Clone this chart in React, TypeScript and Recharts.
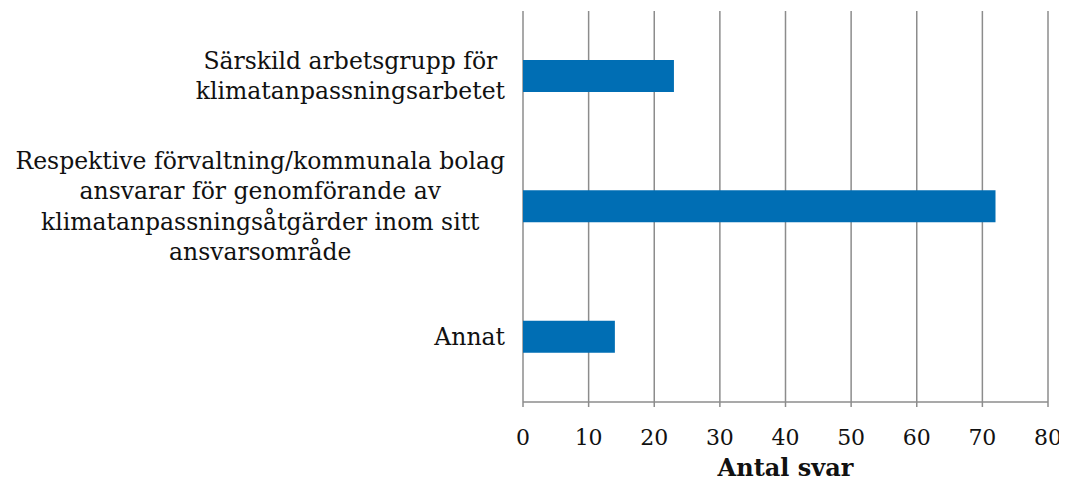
import React from "react";
import { BarChart, Bar, XAxis, YAxis, CartesianGrid } from "recharts";

const categories: string[] = [
  "Särskild arbetsgrupp för\nklimatanpassningsarbetet",
  "Respektive förvaltning/kommunala bolag\nansvarar för genomförande av\nklimatanpassningsåtgärder inom sitt\nansvarsområde",
  "Annat",
];
const values: number[] = [23, 72, 14];
const xTicks: number[] = [0, 10, 20, 30, 40, 50, 60, 70, 80];
const xLabel = "Antal svar";

const data = categories.map((c, i) => ({ name: c, value: values[i] }));

const FONT = "DejaVu Serif";
const LABEL_SIZE = 23.5;
const LINE_H = 30.5;

let ctx: CanvasRenderingContext2D | null = null;
function measure(text: string, size: number): number {
  if (!ctx) {
    const c = document.createElement("canvas");
    ctx = c.getContext("2d");
  }
  if (!ctx) return text.length * size * 0.5;
  ctx.font = `${size}px "${FONT}"`;
  return ctx.measureText(text).width;
}

const CategoryTick = (props: any) => {
  const { x, y, payload } = props;
  const lines = String(payload.value).split("\n");
  const maxW = Math.max(...lines.map((l) => measure(l, LABEL_SIZE)));
  const right = x - 10;
  const cx = right - maxW / 2;
  const startY = y - ((lines.length - 1) * LINE_H) / 2;
  return (
    <g>
      {lines.map((l, i) => (
        <text
          key={i}
          x={cx}
          y={startY + i * LINE_H}
          textAnchor="middle"
          dominantBaseline="central"
          fontFamily={FONT}
          fontSize={LABEL_SIZE}
          fill="#111"
        >
          {l}
        </text>
      ))}
    </g>
  );
};

export default function App() {
  return (
    <div style={{ width: 1059, height: 475, background: "#fff" }}>
      <BarChart
        width={1059}
        height={475}
        data={data}
        layout="vertical"
        margin={{ top: 3, right: 19, bottom: 0, left: 0 }}
        barCategoryGap={0}
      >
        <CartesianGrid horizontal={false} stroke="#8c8c8c" strokeWidth={1.5} />
        <XAxis
          type="number"
          domain={[0, 80]}
          ticks={xTicks}
          interval={0}
          height={81}
          axisLine={{ stroke: "#8c8c8c", strokeWidth: 1.5 }}
          tickLine={{ stroke: "#8c8c8c", strokeWidth: 1.5 }}
          tickSize={5}
          tick={{ fontFamily: FONT, fontSize: 22, fill: "#111", dy: 20 }}
          label={{
            value: xLabel,
            position: "insideBottom",
            offset: 7,
            fontFamily: FONT,
            fontSize: 24,
            fontWeight: "bold",
            fill: "#111",
          }}
        />
        <YAxis
          type="category"
          dataKey="name"
          width={515}
          axisLine={false}
          tickLine={false}
          tick={<CategoryTick />}
          interval={0}
        />
        <Bar dataKey="value" fill="#006EB4" barSize={32} isAnimationActive={false} />
      </BarChart>
    </div>
  );
}
